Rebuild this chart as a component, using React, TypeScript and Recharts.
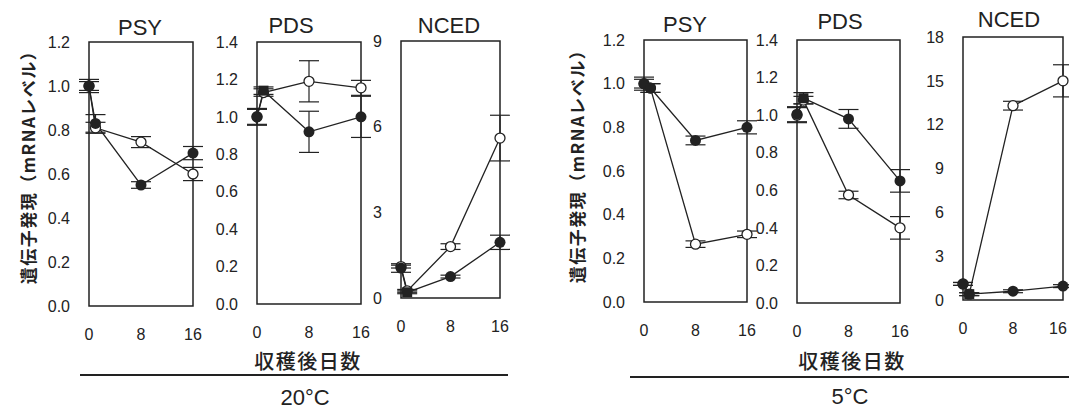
import { LineChart, Line, XAxis, YAxis, ErrorBar, ReferenceArea } from 'recharts'

// days after harvest (the second point is the day-1 sample)
const days = [0, 1, 8, 16]
const dayTicks = [0, 8, 16]

const ticksPsy = [0, 0.2, 0.4, 0.6, 0.8, 1.0, 1.2]
const ticksPds = [0, 0.2, 0.4, 0.6, 0.8, 1.0, 1.2, 1.4]
const ticksNced20 = [0, 3, 6, 9]
const ticksNced5 = [0, 3, 6, 9, 12, 15, 18]

// 20°C
const psy20Open = [1.0, 0.81, 0.745, 0.6]
const psy20OpenErr = [0.02, 0.025, 0.025, 0.03]
const psy20Filled = [1.0, 0.83, 0.55, 0.695]
const psy20FilledErr = [0.03, 0.04, 0.015, 0.03]

const pds20Open = [1.0, 1.13, 1.19, 1.155]
const pds20OpenErr = [0.04, 0.02, 0.11, 0.04]
const pds20Filled = [1.0, 1.14, 0.92, 1.0]
const pds20FilledErr = [0.045, 0.02, 0.11, 0.11]

const nced20Open = [1.1, 0.25, 1.8, 5.6]
const nced20OpenErr = [0.05, 0.05, 0.1, 0.8]
const nced20Filled = [1.05, 0.2, 0.75, 1.95]
const nced20FilledErr = [0.15, 0.05, 0.05, 0.25]

// 5°C
const psy5Open = [1.0, 0.98, 0.265, 0.31]
const psy5OpenErr = [0.02, 0.02, 0.015, 0.015]
const psy5Filled = [1.0, 0.98, 0.74, 0.8]
const psy5FilledErr = [0.03, 0.02, 0.02, 0.03]

const pds5Open = [1.0, 1.08, 0.575, 0.4]
const pds5OpenErr = [0.04, 0.02, 0.02, 0.06]
const pds5Filled = [1.005, 1.09, 0.98, 0.65]
const pds5FilledErr = [0.04, 0.03, 0.05, 0.06]

const nced5Open = [1.1, 0.4, 13.3, 15.0]
const nced5OpenErr = [0.1, 0.1, 0.3, 1.1]
const nced5Filled = [1.1, 0.4, 0.6, 0.95]
const nced5FilledErr = [0.1, 0.1, 0.1, 0.1]

const ink = '#222'
const latin = '"Liberation Sans", Arial, sans-serif'
const cjk = '"Noto Sans CJK JP", "Noto Sans", sans-serif'

const makeRows = (open: number[], openErr: number[], filled: number[], filledErr: number[]) =>
  days.map((day, i) => ({
    day,
    open: open[i],
    openErr: openErr[i],
    filled: filled[i],
    filledErr: filledErr[i],
  }))

const filledDot = (square: boolean) => (p: any) => {
  const { cx, cy, index } = p
  if (cx == null || cy == null) return <g key={index} />
  if (square && index === 1)
    return <rect key={index} x={cx - 5} y={cy - 5} width={10} height={10} fill={ink} />
  return <circle key={index} cx={cx} cy={cy} r={5.5} fill={ink} />
}

type PanelProps = {
  left: number
  top: number
  width: number
  height: number
  rows: any[]
  yMax: number
  yTicks: number[]
  decimals: number
  square: boolean
  lastTickDx?: number
}

function Panel({ left, top, width, height, rows, yMax, yTicks, decimals, square, lastTickDx = 0 }: PanelProps) {
  const ml = 50
  const mt = 12
  const mr = 14
  const xh = 44
  const tick = { fontSize: 16, fill: ink, fontFamily: latin }
  const xTick = (p: any) => {
    const { x, y, payload } = p
    const dx = payload.value === 16 ? lastTickDx : 0
    return (
      <text x={x + dx} y={y} dy="0.71em" textAnchor="middle" {...tick}>
        {payload.value}
      </text>
    )
  }
  return (
    <div style={{ position: 'absolute', left: left - ml, top: top - mt }}>
      <LineChart
        width={ml + width + mr}
        height={mt + height + xh}
        data={rows}
        margin={{ top: mt, right: mr, left: 0, bottom: 0 }}
      >
        <XAxis
          type="number"
          dataKey="day"
          domain={[0, 16]}
          ticks={dayTicks}
          interval={0}
          axisLine={false}
          tickLine={false}
          tickSize={6}
          tickMargin={17}
          height={xh}
          tick={xTick}
        />
        <YAxis
          type="number"
          domain={[0, yMax]}
          ticks={yTicks}
          interval={0}
          width={ml}
          axisLine={false}
          tickLine={false}
          tickSize={6}
          tickMargin={13}
          tick={tick}
          tickFormatter={(v: number) => v.toFixed(decimals)}
        />
        <ReferenceArea
          x1={0}
          x2={16}
          y1={0}
          y2={yMax}
          fill="none"
          fillOpacity={0}
          stroke={ink}
          strokeWidth={1.5}
          strokeOpacity={1}
          ifOverflow="visible"
        />
        <Line
          dataKey="open"
          stroke={ink}
          strokeWidth={1.3}
          dot={{ r: 5, fill: '#fff', stroke: ink, strokeWidth: 1.3 }}
          activeDot={false}
          isAnimationActive={false}
        >
          <ErrorBar dataKey="openErr" width={10} stroke={ink} strokeWidth={1.2} />
        </Line>
        <Line
          dataKey="filled"
          stroke={ink}
          strokeWidth={1.3}
          dot={filledDot(square)}
          activeDot={false}
          isAnimationActive={false}
        >
          <ErrorBar dataKey="filledErr" width={10} stroke={ink} strokeWidth={1.2} />
        </Line>
      </LineChart>
    </div>
  )
}

function Text({ x, y, size, children, font = latin, weight = 400, rotate = 0, spacing = 0 }: any) {
  return (
    <div
      style={{
        position: 'absolute',
        left: x,
        top: y,
        transform: `translate(-50%, -50%) rotate(${rotate}deg)`,
        fontSize: size,
        fontFamily: font,
        fontWeight: weight,
        letterSpacing: spacing,
        color: ink,
        whiteSpace: 'nowrap',
        lineHeight: 1,
      }}
    >
      {children}
    </div>
  )
}

export default function App() {
  return (
    <div
      style={{
        position: 'absolute',
        left: 0,
        top: 0,
        width: 1069,
        height: 409,
        overflow: 'hidden',
        background: '#fff',
      }}
    >
      <Panel left={89} top={42} width={104} height={264} rows={makeRows(psy20Open, psy20OpenErr, psy20Filled, psy20FilledErr)} yMax={1.2} yTicks={ticksPsy} decimals={1} square={false} />
      <Panel left={257} top={42} width={104} height={262} rows={makeRows(pds20Open, pds20OpenErr, pds20Filled, pds20FilledErr)} yMax={1.4} yTicks={ticksPds} decimals={1} square={true} />
      <Panel left={401} top={41} width={99} height={257} rows={makeRows(nced20Open, nced20OpenErr, nced20Filled, nced20FilledErr)} yMax={9} yTicks={ticksNced20} decimals={0} square={true} />

      <Panel left={644} top={40} width={103} height={262} rows={makeRows(psy5Open, psy5OpenErr, psy5Filled, psy5FilledErr)} yMax={1.2} yTicks={ticksPsy} decimals={1} square={false} />
      <Panel left={797} top={40} width={103} height={263} rows={makeRows(pds5Open, pds5OpenErr, pds5Filled, pds5FilledErr)} yMax={1.4} yTicks={ticksPds} decimals={1} square={true} />
      <Panel left={963} top={37} width={100} height={263} rows={makeRows(nced5Open, nced5OpenErr, nced5Filled, nced5FilledErr)} yMax={18} yTicks={ticksNced5} decimals={0} square={true} lastTickDx={-5} />

      <Text x={140} y={28} size={22}>PSY</Text>
      <Text x={291} y={26} size={22}>PDS</Text>
      <Text x={449} y={26} size={22}>NCED</Text>
      <Text x={685} y={25} size={22}>PSY</Text>
      <Text x={840} y={22} size={22}>PDS</Text>
      <Text x={1009} y={20} size={22}>NCED</Text>

      <Text x={27} y={163} size={17} font={cjk} weight={700} rotate={-90} spacing={1.5}>遺伝子発現（mRNAレベル）</Text>
      <Text x={576} y={162} size={17} font={cjk} weight={700} rotate={-90} spacing={1.5}>遺伝子発現（mRNAレベル）</Text>

      <Text x={308} y={361} size={20} font={cjk} weight={500} spacing={1.5}>収穫後日数</Text>
      <Text x={852} y={361} size={20} font={cjk} weight={500} spacing={1.5}>収穫後日数</Text>

      <div style={{ position: 'absolute', left: 80, top: 374, width: 428, height: 1.5, background: ink }} />
      <div style={{ position: 'absolute', left: 630, top: 376, width: 439, height: 1.5, background: ink }} />

      <Text x={305} y={398} size={22}>20°C</Text>
      <Text x={850} y={397} size={22}>5°C</Text>
    </div>
  )
}
